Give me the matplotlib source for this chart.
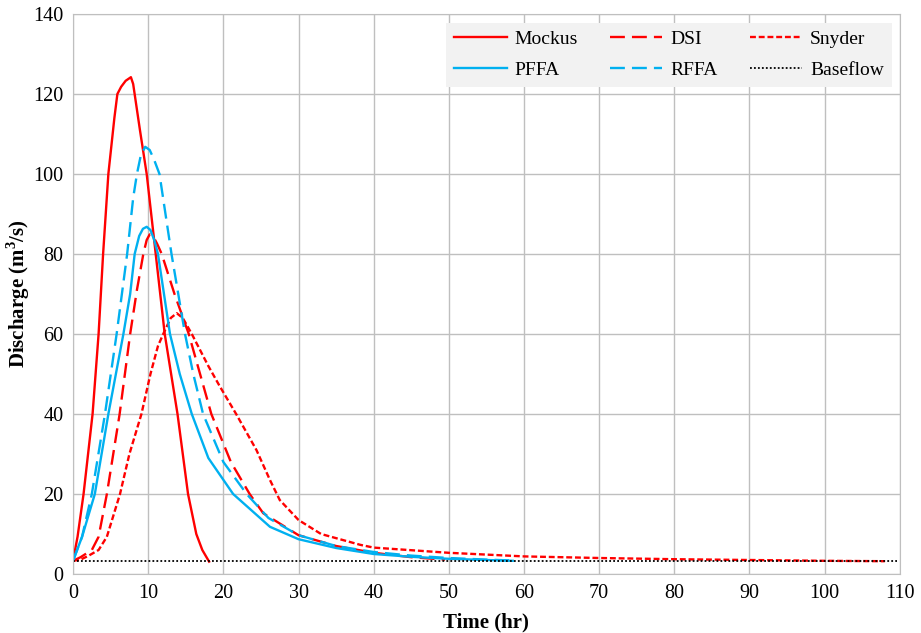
import matplotlib
matplotlib.use('Agg')
import matplotlib.pyplot as plt

# hydrograph ordinates (time in hr, discharge in m3/s)
mockus_t = [0, 0.6, 1.4, 2.6, 3.4, 4.0, 4.7, 5.5, 5.9, 6.4, 7.0, 7.7, 8.0, 8.9, 9.8, 11.0, 12.2, 13.9, 15.3, 16.4, 17.2, 18.1]
mockus_q = [3.3, 9.3, 20, 40, 60, 80, 100, 114, 120, 121.8, 123.3, 124.2, 122.5, 111, 100, 80, 60, 40, 20, 10, 6, 3.1]

dsi_t = [0, 1, 2.5, 3.4, 4.5, 6.2, 7.6, 8.5, 9.35, 9.8, 10.2, 10.7, 11.2, 11.8, 13.5, 15.4, 18.4, 21, 23.5, 25.3,
         30, 35, 40, 45, 49.5]
dsi_q = [3.3, 4.2, 6, 9.3, 20, 40, 60, 71, 80, 83.5, 84.9, 84.3, 82.5, 80, 70, 60, 40, 28, 20, 15.2,
         9.7, 7.0, 5.3, 4.2, 3.6]

snyder_t = [0, 1, 2, 3.4, 4.5, 6.25, 7.5, 9.1, 10.3, 11.3, 12.0, 13, 13.8, 14.6, 15.8, 18, 19.5, 21.7,
            24.4, 26.2, 27.5, 30, 33, 38.2, 40, 50, 60, 70, 80, 90, 100, 108]
snyder_q = [3.3, 3.6, 4.5, 6, 9.3, 20, 30, 40, 50, 57, 60, 64, 65.2, 64, 60, 52, 47, 40,
            31, 23.5, 18.5, 13.5, 10, 7.3, 6.6, 5.3, 4.4, 4.0, 3.7, 3.5, 3.3, 3.2]

pffa_t = [0, 1.2, 2.9, 4.7, 6.7, 7.6, 8.2, 8.8, 9.3, 9.8, 10.3, 10.8, 11.3, 12.1, 12.9, 14.2, 15.8, 18.0, 21.3, 26.2,
          30, 35, 40, 45, 50, 55, 58.5]
pffa_q = [3.3, 9.3, 20, 40, 60, 70, 80, 84.5, 86.3, 86.8, 86, 83.5, 80, 70, 60, 50, 40, 29, 20, 11.8,
          8.7, 6.5, 5.0, 4.3, 3.8, 3.5, 3.3]

rffa_t = [0, 1.2, 2.5, 4.25, 5.8, 7.2, 8.0, 8.5, 9.0, 9.6, 10.2, 10.8, 11.5, 12.3, 13.1, 14.0, 14.9, 16.0, 17.3,
          20, 23.1, 26, 30, 35, 40, 45, 50, 55, 58]
rffa_q = [3.3, 9.3, 20, 40, 60, 80, 94, 100, 104.5, 106.8, 106, 103.5, 100, 90, 80, 70, 60, 50, 40,
          28, 20, 14, 9.7, 7.0, 5.5, 4.6, 4.0, 3.6, 3.4]

base_t = [0, 109.6]
base_q = [3.2, 3.2]

RED = '#ff0000'
BLUE = '#00b0f0'

plt.rcParams['font.family'] = 'Liberation Serif'
plt.rcParams['mathtext.fontset'] = 'custom'
plt.rcParams['mathtext.rm'] = 'Liberation Serif'
plt.rcParams['mathtext.bf'] = 'Liberation Serif:bold'

fig = plt.figure(figsize=(9.21, 6.33), dpi=100)
ax = fig.add_axes([0.0793, 0.0932, 0.8977, 0.8847])

lw = 1.7
l_mock, = ax.plot(mockus_t, mockus_q, c=RED, lw=lw, label='Mockus')
l_dsi, = ax.plot(dsi_t, dsi_q, c=RED, lw=lw, dashes=(6.3, 3.0), label='DSI')
l_sny, = ax.plot(snyder_t, snyder_q, c=RED, lw=lw, dashes=(2.5, 1.2), label='Snyder')
l_pffa, = ax.plot(pffa_t, pffa_q, c=BLUE, lw=lw, label='PFFA')
l_rffa, = ax.plot(rffa_t, rffa_q, c=BLUE, lw=lw, dashes=(6.3, 3.0), label='RFFA')
l_base, = ax.plot(base_t, base_q, c='black', lw=1.3, dashes=(1, 1.2), label='Baseflow')

ax.set_xlim(0, 110)
ax.set_ylim(0, 140)
ax.set_xticks(range(0, 111, 10))
ax.set_yticks(range(0, 141, 20))
ax.grid(True, color='#bfbfbf', lw=1)
ax.set_axisbelow(True)
for s in ax.spines.values():
    s.set_color('#bfbfbf')
ax.tick_params(which='both', length=0, labelsize=14.5, pad=7)

ax.set_xlabel('Time (hr)', fontsize=15, fontweight='bold', labelpad=7)
ax.set_ylabel(r'Discharge (m$^{\mathbf{3}}$/s)', fontsize=15, fontweight='bold', labelpad=1)

# row-wise legend order (matplotlib fills columns first)
handles = [l_mock, l_pffa, l_dsi, l_rffa, l_sny, l_base]
ax.legend(handles, [h.get_label() for h in handles], ncol=3, loc='upper right',
          bbox_to_anchor=(0.990, 0.9845), borderaxespad=0, fontsize=14,
          frameon=True, facecolor='#f2f2f2', edgecolor='none', framealpha=1,
          fancybox=False, handlelength=2.7, columnspacing=1.65, handletextpad=0.4,
          borderpad=0.4, labelspacing=0.7)

fig.savefig('out.png', dpi=100)
